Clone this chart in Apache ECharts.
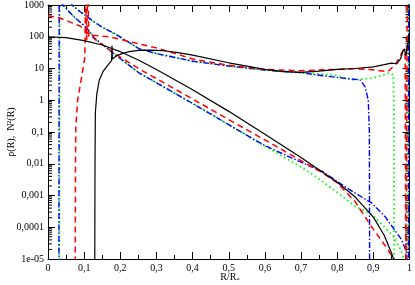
<!DOCTYPE html>
<html><head><meta charset="utf-8">
<script src="https://cdn.jsdelivr.net/npm/echarts@6/dist/echarts.min.js"></script>
<style>html,body{margin:0;padding:0;background:#fff}#c{width:415px;height:285px}</style>
</head><body><div id="c"></div>
<script>
// ---- tick labels ----
const xTickValues = [0,0.1,0.2,0.3,0.4,0.5,0.6,0.7,0.8,0.9,1];
const xTickLabels = ['0','0,1','0,2','0,3','0,4','0,5','0,6','0,7','0,8','0,9','1'];
const yTickExps = [-5,-4,-3,-2,-1,0,1,2,3];
const yTickLabels = ['1e-05','0,0001','0,001','0,01','0,1','1','10','100','1000'];

// ---- data (log10 values) ----
// black solid: density
const blackRhoX = [0,0.05,0.1,0.15,0.2,0.25,0.3,0.4,0.5,0.6,0.7,0.8,0.85,0.9,0.93,0.95,0.96,0.97];
const blackRhoL = [2.0,1.97,1.88,1.74,1.53,1.27,0.97,0.33,-0.35,-1.07,-1.8,-2.58,-3.05,-3.68,-4.25,-4.8,-5.15,-6.5];
// black solid: N^2
const blackN2X = [0.129,0.130,0.131,0.135,0.142,0.152,0.162,0.170,0.176,0.177,0.178,0.19,0.205,0.225,0.25,0.28,0.32,0.36,0.4,0.5,0.6,0.65,0.7,0.75,0.8,0.85,0.9,0.93,0.95,0.965,0.975,0.982,0.986,0.99,0.994,0.997,1.0];
const blackN2L = [-7,-2,-0.4,0.2,0.64,0.9,1.05,1.17,1.25,1.72,1.3,1.4,1.47,1.53,1.57,1.58,1.56,1.5,1.42,1.18,0.97,0.9,0.88,0.92,0.97,1.0,1.05,1.12,1.17,1.15,1.3,1.55,1.62,1.4,1.45,1.9,2.1];
// red dashed: density
const redRhoX = [0,0.03,0.06,0.09,0.11,0.13,0.15,0.2,0.25,0.3,0.4,0.5,0.6,0.7,0.76,0.8,0.85,0.89,0.94,0.955,0.97];
const redRhoL = [2.66,2.6,2.47,2.33,2.12,1.92,1.75,1.36,1.0,0.68,0.04,-0.61,-1.25,-1.9,-2.29,-2.6,-3.2,-3.9,-4.7,-5.0,-6.5];
// red dashed: N^2
const redN2X = [0.075,0.076,0.077,0.082,0.093,0.102,0.104,0.107,0.110,0.113,0.12,0.17,0.25,0.3,0.4,0.5,0.6,0.7,0.76,0.85,0.9,0.94,0.96,0.973,0.983,0.988,0.990,0.993,0.994];
const redN2L = [-7,-2,-0.84,0,0.74,1.36,3.6,1.9,3.6,2.0,2.05,2.0,1.78,1.65,1.3,1.1,0.97,0.93,0.96,0.99,0.96,0.9,1.11,1.37,1.58,1.4,-7,-7,4];
// green dotted: density
const greenRhoX = [0,0.041,0.07,0.107,0.129,0.184,0.252,0.3,0.4,0.5,0.6,0.7,0.74,0.8,0.849,0.896,0.94,0.96,0.975,0.985,0.99];
const greenRhoL = [3.7,3.0,2.65,2.28,1.95,1.45,0.86,0.55,-0.1,-0.77,-1.45,-2.1,-2.4,-2.9,-3.34,-3.6,-4.1,-4.35,-4.7,-5.0,-6.5];
// green dotted: N^2
const greenN2X = [0.0315,0.0325,0.034,0.045,0.066,0.09,0.12,0.15,0.184,0.22,0.252,0.3,0.4,0.5,0.6,0.7,0.79,0.84,0.9,0.93,0.945,0.955,0.957,0.958,0.996,0.997];
const greenN2L = [-7,3.3,4.0,3.6,3.0,2.78,2.53,2.3,2.1,1.85,1.62,1.47,1.23,1.08,0.95,0.87,0.8,0.64,0.7,0.8,0.86,0.8,0,-7,-7,4];
// blue dash-dot: density
const blueRhoX = [0,0.041,0.07,0.107,0.129,0.184,0.252,0.3,0.4,0.5,0.6,0.7,0.76,0.832,0.896,0.932,0.978,0.992,0.997];
const blueRhoL = [3.7,3.0,2.65,2.28,1.95,1.45,0.86,0.55,-0.1,-0.77,-1.43,-1.95,-2.25,-2.8,-3.24,-3.66,-4.39,-4.8,-6.5];
// blue dash-dot: N^2
const blueN2X = [0.0300,0.0310,0.034,0.045,0.066,0.09,0.12,0.15,0.184,0.22,0.252,0.3,0.4,0.5,0.6,0.7,0.74,0.822,0.863,0.877,0.886,0.889,0.890,0.997,0.998];
const blueN2L = [-7,3.3,4.0,3.6,3.0,2.78,2.53,2.3,2.1,1.85,1.62,1.47,1.23,1.08,0.95,0.87,0.8,0.69,0.64,0.43,0.0,-1,-7,-7,4];

function pts(xs, ls){ return xs.map((x,i)=>[x, Math.pow(10, ls[i])]); }

const minorVals = [];
for (let k=-5;k<=2;k++) for (let m=2;m<=9;m++) minorVals.push([0, m*Math.pow(10,k)]);

const FONT = '"Liberation Serif","DejaVu Serif",serif';
const chart = echarts.init(document.getElementById('c'), null, {renderer:'canvas'});

function xAxisCfg(pos, labels){
  return {
    type:'value', min:0, max:1, interval:0.1, position:pos,
    axisLine:{show:true, onZero:false, lineStyle:{color:'#000', width:1}},
    axisTick:{show:true, inside:true, length:7, lineStyle:{color:'#000'}},
    minorTick:{show:true, splitNumber:2, length:4, lineStyle:{color:'#000'}},
    splitLine:{show:false},
    axisLabel:{show:labels, margin:4, color:'#000', fontFamily:FONT, fontSize:10,
      formatter:v=>{const i=xTickValues.findIndex(t=>Math.abs(t-v)<1e-6); return i>=0?xTickLabels[i]:'';}}
  };
}
function yAxisCfg(pos, labels){
  return {
    type:'log', logBase:10, min:1e-5, max:1000, interval:1, position:pos,
    axisLine:{show:true, onZero:false, lineStyle:{color:'#000', width:1}},
    axisTick:{show:true, inside:true, length:7, lineStyle:{color:'#000'}},
    splitLine:{show:false},
    axisLabel:{show:labels, margin:4, color:'#000', fontFamily:FONT, fontSize:10,
      formatter:v=>{const e=Math.round(Math.log10(v)); const i=yTickExps.indexOf(e); return i>=0?yTickLabels[i]:'';}}
  };
}

function line(name, data, color, type, width){
  return {name, type:'line', data, showSymbol:false, symbol:'none', clip:true,
    xAxisIndex:0, yAxisIndex:0, animation:false,
    lineStyle:{color, type, width}};
}

const dashDot = [6,2,1.5,2];
const option = {
  animation:false,
  backgroundColor:'#fff',
  grid:{left:48, right:3, top:5, bottom:26},
  xAxis:[xAxisCfg('bottom', true), xAxisCfg('top', false)],
  yAxis:[yAxisCfg('left', true), yAxisCfg('right', false)],
  series:[
    line('gRho', pts(greenRhoX, greenRhoL), '#00ff00', [1.5,3], 1.8),
    line('gN2', pts(greenN2X, greenN2L), '#00ff00', [1.5,3], 1.8),
    line('bRho', pts(blueRhoX, blueRhoL), '#0000ff', dashDot, 1.4),
    line('bN2', pts(blueN2X, blueN2L), '#0000ff', dashDot, 1.4),
    line('rRho', pts(redRhoX, redRhoL), '#ff0000', [6,4], 1.5),
    line('rN2', pts(redN2X, redN2L), '#ff0000', [6,4], 1.5),
    line('kRho', pts(blackRhoX, blackRhoL), '#000000', 'solid', 1.2),
    line('kN2', pts(blackN2X, blackN2L), '#000000', 'solid', 1.2),
    {
      type:'custom', xAxisIndex:0, yAxisIndex:0, clip:false, silent:true, animation:false,
      data:minorVals,
      renderItem:(params, api)=>{
        const v = api.value(1);
        const pL = api.coord([0, v]); const pR = api.coord([1, v]);
        return {type:'group', children:[
          {type:'line', shape:{x1:pL[0], y1:pL[1], x2:pL[0]+4, y2:pL[1]}, style:{stroke:'#000', lineWidth:1}},
          {type:'line', shape:{x1:pR[0]-4, y1:pR[1], x2:pR[0], y2:pR[1]}, style:{stroke:'#000', lineWidth:1}}
        ]};
      }
    }
  ],
  graphic:[
    {type:'text', x:11, y:132, rotation:Math.PI/2,
      style:{text:'ρ(R),  N²(R)', fontFamily:FONT, fontSize:10, fill:'#000', align:'center', verticalAlign:'middle'}},
    {type:'text', x:230, y:277,
      style:{text:'R/R{s|*}', rich:{s:{fontSize:7, fontFamily:FONT, fill:'#000', verticalAlign:'bottom', padding:[6,0,0,0]}},
        fontFamily:FONT, fontSize:10, fill:'#000', align:'center', verticalAlign:'middle'}}
  ]
};
chart.setOption(option);
</script>
</body></html>
